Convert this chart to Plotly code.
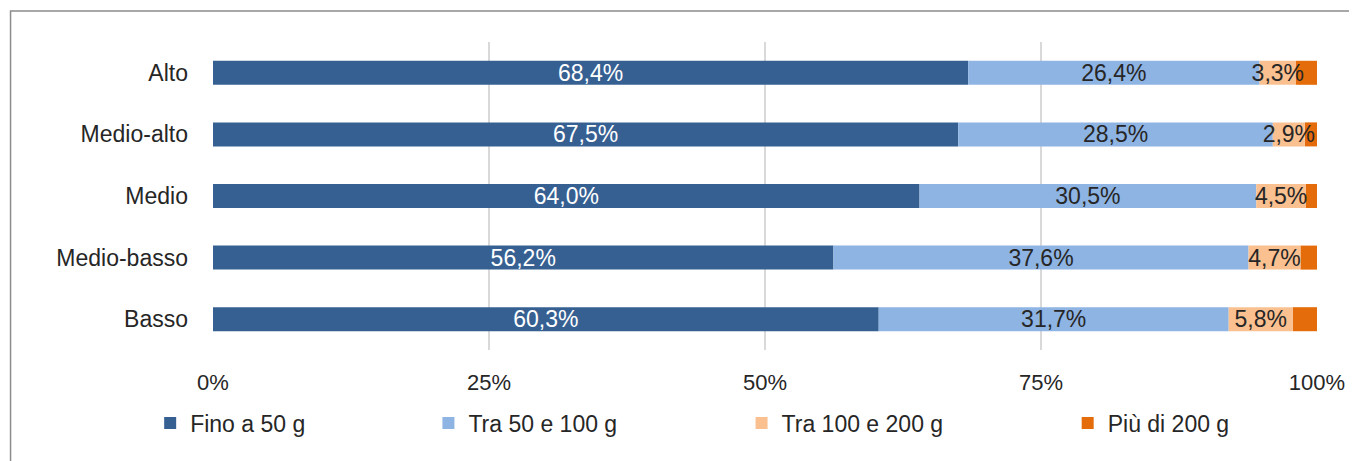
import plotly.graph_objects as go

categories = ["Alto", "Medio-alto", "Medio", "Medio-basso", "Basso"]
series_names = ["Fino a 50 g", "Tra 50 e 100 g", "Tra 100 e 200 g", "Più di 200 g"]
fino_50 = [68.4, 67.5, 64.0, 56.2, 60.3]
tra_50_100 = [26.4, 28.5, 30.5, 37.6, 31.7]
tra_100_200 = [3.3, 2.9, 4.5, 4.7, 5.8]
piu_200 = [1.9, 1.1, 1.0, 1.5, 2.2]
tick_vals = [0, 25, 50, 75, 100]
tick_text = ["0%", "25%", "50%", "75%", "100%"]

colors = ["#376092", "#8EB4E3", "#FAC090", "#E46C0A"]
text_colors = ["#FFFFFF", "#262626", "#262626", "#262626"]
all_series = [fino_50, tra_50_100, tra_100_200, piu_200]
show_labels = [True, True, True, False]

# stacked bases computed from the data (cumulative sums)
bases = []
running = [0.0] * len(categories)
for vals in all_series:
    bases.append(list(running))
    running = [r + v for r, v in zip(running, vals)]

FONT = "Liberation Sans"
OFF = 8  # page body margin
W, H = 1357 - OFF, 461 - OFF
L, R, T, B = 213 - OFF, 37, 42 - OFF, 111
PW = W - L - R
PH = H - T - B

def px_to_paper_x(px):
    return (px - OFF - L) / PW

def px_to_paper_y(py):
    return (H - B - (py - OFF)) / PH

fig = go.Figure()
legend_names = ["legend", "legend2", "legend3", "legend4"]
marker_left = [164, 443, 757, 1084]

# draw order so that the small-segment labels sit on top of neighbours
draw_order = [3, 0, 1, 2]
for i in draw_order:
    vals = all_series[i]
    txt = [f"{v:.1f}".replace(".", ",") + "%" for v in vals] if show_labels[i] else None
    fig.add_trace(go.Bar(
        y=categories, x=vals, base=bases[i], name=series_names[i], orientation="h",
        marker=dict(color=colors[i], line=dict(width=0)),
        text=txt,
        textposition="inside" if show_labels[i] else "none",
        insidetextanchor="middle",
        textangle=0,
        constraintext="none",
        textfont=dict(family=FONT, size=23, color=text_colors[i]),
        legend=legend_names[i],
        hoverinfo="skip",
    ))

layout_legends = {}
for i, ln in enumerate(legend_names):
    layout_legends[ln] = dict(
        x=px_to_paper_x(marker_left[i] - 14), xanchor="left",
        y=px_to_paper_y(423), yanchor="middle",
        orientation="h",
        font=dict(family=FONT, size=23, color="#262626"),
        bgcolor="rgba(0,0,0,0)",
    )

fig.update_layout(
    width=W, height=H,
    margin=dict(l=L, r=R, t=T, b=B, pad=0),
    barmode="overlay",
    bargap=0.61,
    plot_bgcolor="white",
    paper_bgcolor="white",
    showlegend=True,
    font=dict(family=FONT, size=23, color="#262626"),
    xaxis=dict(
        range=[0, 100], tickvals=tick_vals, ticktext=tick_text,
        showgrid=True, gridcolor="#D9D9D9", gridwidth=2,
        zeroline=False, showline=False, ticks="",
        tickfont=dict(family=FONT, size=22, color="#262626"),
        ticklabelstandoff=17,
        fixedrange=True,
    ),
    yaxis=dict(
        autorange="reversed", showgrid=False, zeroline=False, showline=False,
        ticks="", tickfont=dict(family=FONT, size=23, color="#262626"),
        ticklabelstandoff=24,
    ),
    shapes=[dict(
        type="rect", xref="paper", yref="paper",
        x0=px_to_paper_x(10), x1=px_to_paper_x(1357 + 20),
        y0=px_to_paper_y(461 + 20), y1=px_to_paper_y(11),
        line=dict(color="#8C8C8C", width=1.5), fillcolor="rgba(0,0,0,0)",
        layer="below",
    )],
    **layout_legends,
)

fig.write_html("out.html")
